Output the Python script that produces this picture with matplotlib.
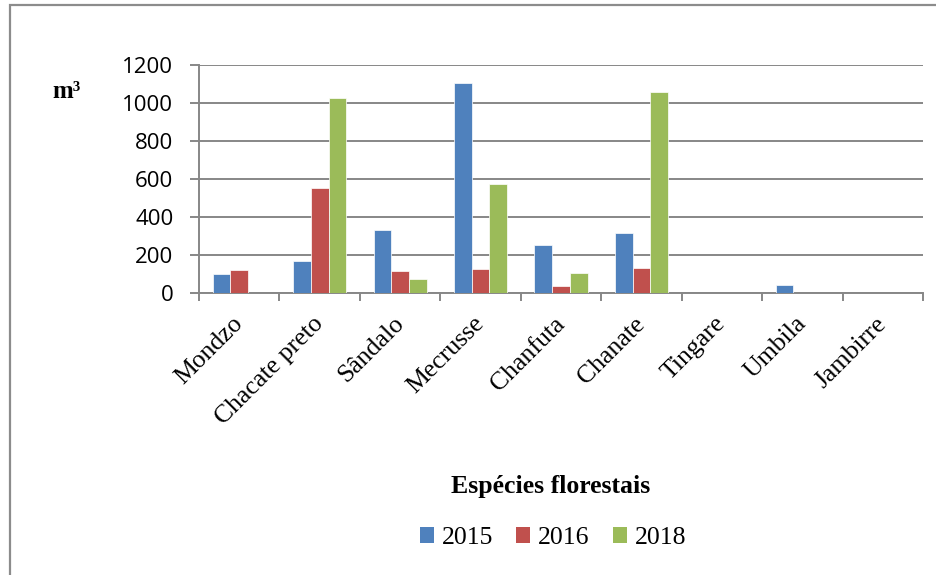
import matplotlib
matplotlib.use('Agg')
import matplotlib.pyplot as plt
import matplotlib.transforms as mtransforms
from matplotlib.patches import Patch, Rectangle
import numpy as np

especies = ['Mondzo', 'Chacate preto', 'Sândalo', 'Mecrusse', 'Chanfuta',
            'Chanate', 'Tingare', 'Umbila', 'Jambirre']
anos = ['2015', '2016', '2018']
vol_2015 = [100, 168, 333, 1107, 252, 315, 0, 45, 0]
vol_2016 = [120, 553, 117, 126, 38, 131, 0, 0, 0]
vol_2018 = [0, 1025, 75, 575, 107, 1058, 0, 0, 0]
cores = ['#4F81BD', '#C0504D', '#9BBB59']
yticks = [0, 200, 400, 600, 800, 1000, 1200]

grid_cor = '#878787'
serif = ['Liberation Serif', 'DejaVu Serif']

fig = plt.figure(figsize=(9.37, 5.75), dpi=100)
fig.patch.set_facecolor('white')

# moldura do gráfico (cortada à direita e em baixo)
fig.patches.append(Rectangle((10.5 / 937, -0.1), 1.2, 1.1 - 5.5 / 575,
                             transform=fig.transFigure, fill=False,
                             edgecolor='#8c8c8c', linewidth=1.6))

ax = fig.add_axes([199 / 937, 1 - 293.3 / 575, 724 / 937, 228.3 / 575])

x = np.arange(len(especies))
w = 0.22
for i, (vals, cor) in enumerate(zip([vol_2015, vol_2016, vol_2018], cores)):
    ax.bar(x + (i - 1) * w, vals, width=w, color=cor, edgecolor='white',
           linewidth=0.5, zorder=3)

ax.set_xlim(-0.5, len(especies) - 0.5)
ax.set_ylim(0, 1200)
ax.set_yticks(yticks)
ax.set_yticklabels([str(v) for v in yticks], fontfamily='Open Sans', fontsize=16)
ax.yaxis.grid(True, color=grid_cor, linewidth=1.4, zorder=0)
ax.set_axisbelow(True)

ax.set_xticks(x)
ax.set_xticklabels(especies, rotation=45, ha='right', va='top',
                   fontfamily=serif, fontsize=18.5)
ax.set_xticks(np.arange(len(especies) + 1) - 0.5, minor=True)
ax.tick_params(axis='x', which='major', length=0, pad=14)
ax.tick_params(axis='x', which='minor', length=6, width=1.4, color=grid_cor)
ax.tick_params(axis='y', length=6.5, width=1.4, color=grid_cor, pad=12)

offset = mtransforms.ScaledTranslation(0.08, 0, fig.dpi_scale_trans)
for lbl in ax.get_xticklabels():
    lbl.set_transform(lbl.get_transform() + offset)

for s in ['top', 'right']:
    ax.spines[s].set_visible(False)
for s in ['left', 'bottom']:
    ax.spines[s].set_color(grid_cor)
    ax.spines[s].set_linewidth(1.4)

fig.text(52 / 937, 1 - 98 / 575, 'm³', fontfamily=serif, fontweight='bold',
         fontsize=18, ha='left', va='baseline')
fig.text(551 / 937, 1 - 487 / 575, 'Espécies florestais', fontfamily=serif,
         fontweight='bold', fontsize=18.5, ha='center', va='center')

handles = [Patch(facecolor=c, edgecolor='none') for c in cores]
fig.legend(handles, anos, loc='center', bbox_to_anchor=(553 / 937, 1 - 538 / 575),
           ncol=3, frameon=False, prop={'family': serif, 'size': 18.5},
           handlelength=0.55, handleheight=0.6, handletextpad=0.3,
           columnspacing=0.9)

fig.savefig('out.png', dpi=100)
